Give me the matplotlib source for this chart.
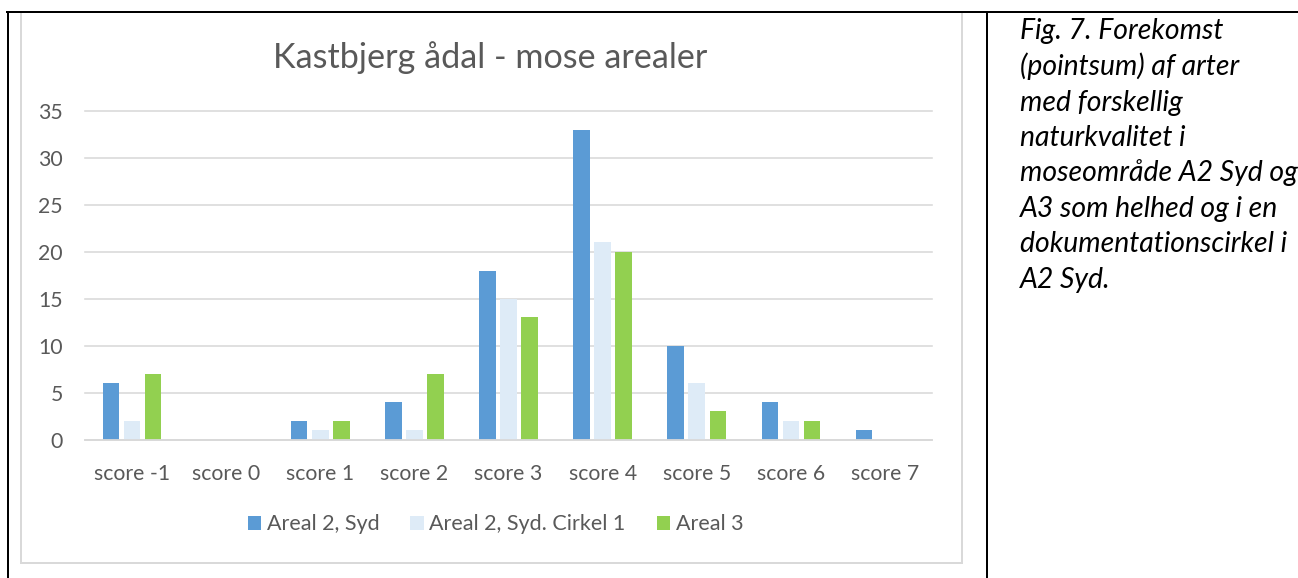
import matplotlib
matplotlib.use("Agg")
import matplotlib.pyplot as plt
import numpy as np
from matplotlib.patches import Rectangle, Patch
from matplotlib.lines import Line2D

# ---------------- data ----------------
categories = ["score -1", "score 0", "score 1", "score 2", "score 3",
              "score 4", "score 5", "score 6", "score 7"]
areal2_syd = [6, 0, 2, 4, 18, 33, 10, 4, 1]
areal2_syd_cirkel1 = [2, 0, 1, 1, 15, 21, 6, 2, 0]
areal3 = [7, 0, 2, 7, 13, 20, 3, 2, 0]
series_names = ["Areal 2, Syd", "Areal 2, Syd. Cirkel 1", "Areal 3"]
y_ticks = [0, 5, 10, 15, 20, 25, 30, 35]
chart_title = "Kastbjerg ådal - mose arealer"
caption_lines = ["Fig. 7. Forekomst", "(pointsum) af arter", "med forskellig",
                 "naturkvalitet i", "moseområde A2 Syd og", "A3 som helhed og i en",
                 "dokumentationscirkel i", "A2 Syd."]

# ---------------- style ----------------
colors = ["#5B9BD5", "#DEEBF7", "#92D050"]
GRAY_TXT = "#595959"
GRID = "#D9D9D9"
FONT = "Lato"

W, H = 1298, 578
DPI = 100
fig = plt.figure(figsize=(W / DPI, H / DPI), dpi=DPI)
fig.patch.set_facecolor("white")
renderer = fig.canvas.get_renderer()


def fx(x):
    return x / W


def fy(y):
    return 1 - y / H


def px2pt(p):
    return p * 72 / DPI


def fit_size(text, target_px, **kw):
    t = fig.text(0, 0, text, fontsize=20, family=FONT, **kw)
    w = t.get_window_extent(renderer).width
    t.remove()
    return 20 * target_px / w


title_fs = fit_size(chart_title, 434)
tick_fs = fit_size("score -1", 76)
leg_fs = fit_size(series_names[1], 196)
cap_fs = fit_size("dokumentationscirkel i", 267, style="italic")

# ---------------- table lines & chart frame ----------------
fig.add_artist(Rectangle((fx(21), fy(563)), fx(962) - fx(21), fy(12) - fy(563),
                         transform=fig.transFigure, facecolor="none",
                         edgecolor=GRID, lw=px2pt(2)))
fig.add_artist(Line2D([fx(7), fx(1298)], [fy(12), fy(12)], transform=fig.transFigure,
                      color="black", lw=px2pt(2)))
fig.add_artist(Line2D([fx(8.3), fx(8.3)], [fy(12), fy(578)], transform=fig.transFigure,
                      color="black", lw=px2pt(2)))
fig.add_artist(Line2D([fx(987), fx(987)], [fy(12), fy(578)], transform=fig.transFigure,
                      color="black", lw=px2pt(2)))

# ---------------- axes ----------------
ax = fig.add_axes([fx(85), fy(439.5), fx(932) - fx(85), fy(111) - fy(439.5)])
ax.set_facecolor("none")
x = np.arange(len(categories))
series = [areal2_syd, areal2_syd_cirkel1, areal3]
offsets = [-0.224, 0.0, 0.224]
bw = 0.175
for vals, off, c, name in zip(series, offsets, colors, series_names):
    ax.bar(x + off, vals, width=bw, color=c, label=name, zorder=2, linewidth=0)

ax.set_xlim(-0.5, len(categories) - 0.5)
ax.set_ylim(0, 35)
ax.set_yticks(y_ticks)
ax.set_yticklabels([str(v) for v in y_ticks])
ax.set_xticks(x)
ax.set_xticklabels(categories)
for s in ax.spines.values():
    s.set_visible(False)
ax.yaxis.grid(True, color=GRID, lw=px2pt(1.6), zorder=0)
ax.set_axisbelow(True)
for gl in ax.get_ygridlines():
    gl.set_clip_on(False)
ax.axhline(0, color=GRID, lw=px2pt(1.8), zorder=3, clip_on=False)

ax.tick_params(axis="both", length=0, labelcolor=GRAY_TXT)
ax.tick_params(axis="x", pad=px2pt(40), labelsize=tick_fs)
ax.tick_params(axis="y", pad=px2pt(22), labelsize=tick_fs)
for lab in ax.get_xticklabels():
    lab.set_family(FONT)
    lab.set_va("baseline")
for lab in ax.get_yticklabels():
    lab.set_family(FONT)

# ---------------- title ----------------
fig.text(fx(490), fy(68), chart_title, ha="center", va="baseline",
         fontsize=title_fs, color=GRAY_TXT, family=FONT)

# ---------------- legend ----------------
fs_px = leg_fs * DPI / 72
sq = 13.5
hl = sq / fs_px
hh = (sq / fs_px - 0.245) / 0.65
handles = [Patch(facecolor=c, edgecolor="none") for c in colors]
fig.legend(handles, series_names, loc="center",
           bbox_to_anchor=(fx(495.5), fy(524.5)), ncol=3, frameon=False,
           prop={"family": FONT, "size": leg_fs}, labelcolor=GRAY_TXT,
           handlelength=hl, handleheight=hh, handletextpad=5.5 / fs_px,
           columnspacing=31 / fs_px, borderpad=0, borderaxespad=0)

# ---------------- caption ----------------
for i, line in enumerate(caption_lines):
    fig.text(fx(1020), fy(39.5 + i * 35.5), line, ha="left", va="baseline",
             fontsize=cap_fs, style="italic", family=FONT, color="black")

fig.savefig("out.png", dpi=DPI)
